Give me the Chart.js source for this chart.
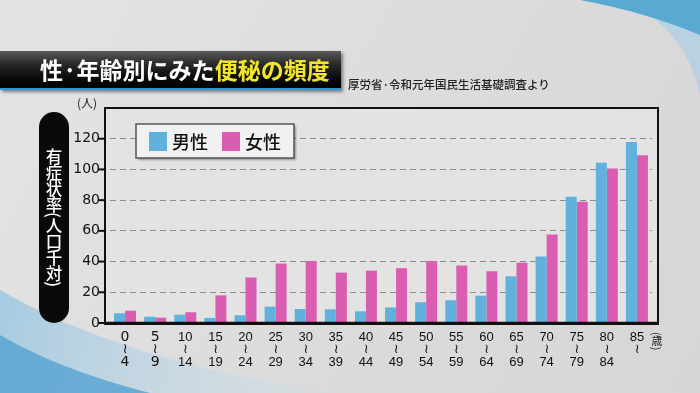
<!DOCTYPE html>
<html lang="ja">
<head>
<meta charset="utf-8">
<script src="https://cdn.jsdelivr.net/npm/chart.js@4/dist/chart.umd.min.js"></script>
<style>
  html, body { margin:0; padding:0; }
  body { width:700px; height:393px; overflow:hidden; position:relative; background:#dedede; font-family:"Noto Sans CJK JP", sans-serif; }
  #c { position:absolute; left:0; top:0; }
  .ov { position:absolute; white-space:nowrap; }
  #banner { left:0; top:51px; width:341px; height:37px; background:linear-gradient(#5a5a5a 0%, #2a2a2a 35%, #0c0c0c 70%, #000 100%); box-shadow:2px 2px 3px rgba(0,0,0,0.45); border-bottom:2px solid #2f95d6; }
  #title { left:40px; top:53px; font-size:23px; font-weight:bold; color:#fff; line-height:33px; letter-spacing:0px; }
  #title span { color:#f3e52a; }
  #source { left:348px; top:76px; font-size:11.5px; color:#222; line-height:16px; font-weight:500; }
  #pill { left:39px; top:112px; width:30px; height:211px; background:#0a0a0a; border-radius:15px; }
  #ylab { left:39px; top:112px; width:30px; height:211px; display:flex; align-items:center; justify-content:center; }
  #ylab div { writing-mode:vertical-rl; text-orientation:mixed; color:#fff; font-size:16.5px; font-weight:500; line-height:30px; letter-spacing:-0.5px; }
  #unit { left:77px; top:95px; font-size:12px; color:#222; line-height:16px; }
  #sai { left:651px; top:332px; writing-mode:vertical-rl; text-orientation:mixed; font-size:11px; color:#222; line-height:12px; }
</style>
</head>
<body>
<canvas id="c" width="700" height="393"></canvas>
<div class="ov" id="banner"></div>
<div class="ov" id="title">性·年齢別にみた<span>便秘の頻度</span></div>
<div class="ov" id="source">厚労省·令和元年国民生活基礎調査より</div>
<div class="ov" id="pill"></div>
<div class="ov" id="ylab"><div>有症状率(人口千対)</div></div>
<div class="ov" id="unit">(人)</div>
<div class="ov" id="sai">(歳)</div>
<script>
// ---- data ----
const categories = [
  ["0","≀","4"],["5","≀","9"],["10","≀","14"],["15","≀","19"],["20","≀","24"],
  ["25","≀","29"],["30","≀","34"],["35","≀","39"],["40","≀","44"],["45","≀","49"],
  ["50","≀","54"],["55","≀","59"],["60","≀","64"],["65","≀","69"],["70","≀","74"],
  ["75","≀","79"],["80","≀","84"],["85","≀"]
];
const seriesNames = ["男性", "女性"];
const maleValues   = [6.3, 4.1, 5.4, 3.3, 5.0, 10.7, 9.1, 8.9, 7.6, 10.1, 13.5, 14.8, 17.8, 30.4, 43.3, 82.2, 104.3, 117.8];
const femaleValues = [8.0, 3.5, 7.0, 18.0, 29.6, 38.7, 40.4, 32.8, 34.1, 35.7, 40.4, 37.4, 33.7, 39.3, 57.6, 78.9, 100.6, 109.3];
const yTicks = [0, 20, 40, 60, 80, 100, 120];

const maleColor = "#60b1db";
const femaleColor = "#d95db1";

const bgPlugin = {
  id: "bg",
  beforeDraw(chart) {
    const ctx = chart.ctx;
    const W = chart.width, H = chart.height;
    ctx.save();
    let g = ctx.createLinearGradient(0, 0, W, H);
    g.addColorStop(0, "#e4e4e4");
    g.addColorStop(0.5, "#dcdcdc");
    g.addColorStop(1, "#d6d6d6");
    ctx.fillStyle = g;
    ctx.fillRect(0, 0, W, H);
    // top-right blue swoosh
    ctx.beginPath();
    ctx.moveTo(620, 0); ctx.quadraticCurveTo(685, 25, 700, 95); ctx.lineTo(700, 0); ctx.closePath();
    ctx.fillStyle = "rgba(175,208,226,0.8)"; ctx.fill();
    ctx.beginPath();
    ctx.moveTo(580, 0); ctx.quadraticCurveTo(645, 12, 700, 35); ctx.lineTo(700, 0); ctx.closePath();
    ctx.fillStyle = "#5aa9d3"; ctx.fill();
    // bottom-left blue swoosh
    ctx.beginPath();
    ctx.moveTo(0, 290); ctx.quadraticCurveTo(120, 360, 330, 393); ctx.lineTo(0, 393); ctx.closePath();
    g = ctx.createLinearGradient(0, 300, 300, 393);
    g.addColorStop(0, "rgba(160,200,225,0.9)");
    g.addColorStop(1, "rgba(200,220,232,0.3)");
    ctx.fillStyle = g; ctx.fill();
    ctx.beginPath();
    ctx.moveTo(0, 335); ctx.quadraticCurveTo(60, 370, 150, 393); ctx.lineTo(0, 393); ctx.closePath();
    ctx.fillStyle = "rgba(90,165,210,0.85)"; ctx.fill();
    // plot panel
    ctx.fillStyle = "#e3e3e3";
    ctx.fillRect(105, 108, 553, 216);
    ctx.restore();
  },
  afterDraw(chart) {
    const ctx = chart.ctx;
    const ys = chart.scales.y;
    ctx.save();
    ctx.strokeStyle = "#111";
    ctx.lineWidth = 2;
    ctx.strokeRect(105, 108, 553, 216);
    ctx.lineWidth = 2.5;
    ctx.beginPath(); ctx.moveTo(104, ys.getPixelForValue(0)); ctx.lineTo(659, ys.getPixelForValue(0)); ctx.stroke();
    ctx.lineWidth = 2;
    yTicks.forEach(v => {
      const y = ys.getPixelForValue(v);
      ctx.beginPath(); ctx.moveTo(98, y); ctx.lineTo(105, y); ctx.stroke();
    });
    // legend
    ctx.shadowColor = "rgba(0,0,0,0.35)";
    ctx.shadowOffsetX = 2; ctx.shadowOffsetY = 2; ctx.shadowBlur = 2;
    ctx.fillStyle = "#f1f1f1";
    ctx.fillRect(136, 124, 158, 34);
    ctx.shadowColor = "transparent";
    ctx.strokeStyle = "#555"; ctx.lineWidth = 1.5;
    ctx.strokeRect(136, 124, 158, 34);
    const ds = chart.data.datasets;
    const items = [{x:149, tx:172}, {x:222, tx:245}];
    ctx.font = "500 18px 'Noto Sans CJK JP'";
    ctx.textBaseline = "middle";
    ctx.textAlign = "left";
    ds.forEach((d, i) => {
      ctx.fillStyle = d.backgroundColor;
      ctx.fillRect(items[i].x, 132, 18, 19);
      ctx.fillStyle = "#111";
      ctx.fillText(d.label, items[i].tx, 142);
    });
    ctx.restore();
  }
};

new Chart(document.getElementById("c"), {
  type: "bar",
  data: {
    labels: categories,
    datasets: [
      { label: seriesNames[0], data: maleValues, backgroundColor: maleColor, borderWidth: 0 },
      { label: seriesNames[1], data: femaleValues, backgroundColor: femaleColor, borderWidth: 0 }
    ]
  },
  plugins: [bgPlugin],
  options: {
    responsive: false,
    devicePixelRatio: 1,
    animation: false,
    layout: { padding: { left: 0, right: 48, top: 108, bottom: 0 } },
    plugins: { legend: { display: false }, tooltip: { enabled: false } },
    datasets: { bar: { categoryPercentage: 0.73, barPercentage: 1.0 } },
    scales: {
      x: {
        afterFit: s => { s.height = 70; },
        grid: { display: false, drawTicks: false },
        border: { display: false },
        ticks: {
          color: "#111",
          padding: 8,
          maxRotation: 0,
          autoSkip: false,
          font: (c) => (c.index < 2
            ? { family: "'DejaVu Sans'", size: 14, lineHeight: 12.5 / 14 }
            : { family: "'Liberation Sans', 'DejaVu Sans'", size: 13, lineHeight: 12.5 / 13 })
        }
      },
      y: {
        min: 0, max: 140,
        afterFit: s => { s.width = 110; },
        afterBuildTicks: s => { s.ticks = yTicks.map(v => ({ value: v })); },
        grid: {
          drawTicks: false,
          color: c => (c.tick && c.tick.value === 0 ? "rgba(0,0,0,0)" : "#8c8c8c"),
          lineWidth: 1
        },
        border: { display: false, dash: [6, 4] },
        ticks: {
          color: "#111",
          padding: 10,
          font: { family: "'DejaVu Sans'", size: 14 }
        }
      }
    }
  }
});
</script>
</body>
</html>
